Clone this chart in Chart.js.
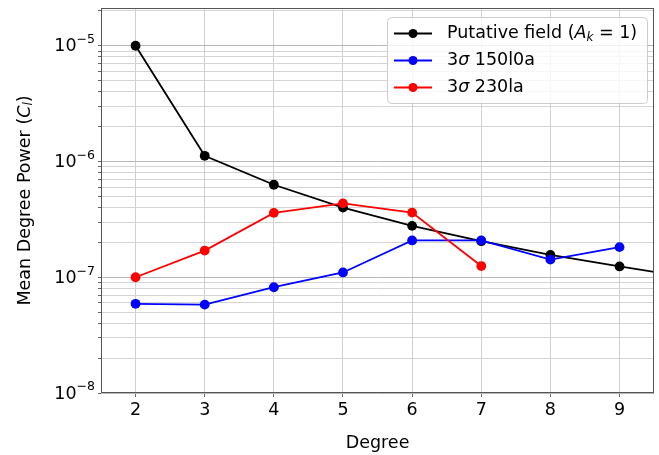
<!DOCTYPE html>
<html>
<head>
<meta charset="utf-8">
<script src="https://cdn.jsdelivr.net/npm/chart.js@4.4.1/dist/chart.umd.min.js"></script>
<style>
  html, body { margin: 0; padding: 0; background: #fff; }
  #wrap { width: 659px; height: 455px; }
</style>
</head>
<body>
<div id="wrap"><canvas id="powerChart"></canvas></div>
<script>
// Values
const degrees = [2, 3, 4, 5, 6, 7, 8, 9, 10];
const putativeField = [1.0e-5, 1.12e-6, 6.3e-7, 4.0e-7, 2.78e-7, 2.05e-7, 1.56e-7, 1.24e-7, 1.0e-7];
const sigma150l0a = [5.9e-8, 5.8e-8, 8.2e-8, 1.1e-7, 2.08e-7, 2.08e-7, 1.42e-7, 1.82e-7];
const sigma230la = [1.0e-7, 1.7e-7, 3.6e-7, 4.35e-7, 3.62e-7, 1.25e-7];

const xTicks = [2, 3, 4, 5, 6, 7, 8, 9];
const yDecades = [-8, -7, -6, -5];
const yTickBase = '10';
const yTickExps = ['−8', '−7', '−6', '−5'];

const FONT = "'DejaVu Sans', sans-serif";

function toPoints(values) {
    return values.map((v, i) => ({ x: degrees[i], y: v }));
}

// draw a list of text runs (mixed upright / italic / subscript) from x
function drawRuns(ctx, runs, x, y, align) {
    let total = 0;
    runs.forEach(r => { ctx.font = r.font; total += ctx.measureText(r.text).width; });
    let cx = x;
    if (align === 'center') cx = x - total / 2;
    if (align === 'right') cx = x - total;
    ctx.textBaseline = 'middle';
    ctx.textAlign = 'left';
    runs.forEach(r => {
        ctx.font = r.font;
        ctx.fillText(r.text, cx, y + (r.dy || 0));
        cx += ctx.measureText(r.text).width;
    });
}

const up = '17.5px ' + FONT;
const it = 'italic 17.5px ' + FONT;
const sub = 'italic 12px ' + FONT;
const sup = '12.5px ' + FONT;

const legendItems = [
    { color: '#000000', runs: [{ text: 'Putative field (', font: up }, { text: 'A', font: it }, { text: 'k', font: sub, dy: 4 }, { text: ' = 1)', font: up }] },
    { color: '#0000ff', runs: [{ text: '3', font: up }, { text: 'σ', font: it }, { text: ' 150l0a', font: up }] },
    { color: '#ff0000', runs: [{ text: '3', font: up }, { text: 'σ', font: it }, { text: ' 230la', font: up }] }
];

const decorations = {
    id: 'decorations',
    afterDraw(chart) {
        const ctx = chart.ctx;
        const a = chart.chartArea;
        const yScale = chart.scales.y;
        ctx.save();
        // frame
        ctx.strokeStyle = '#555555';
        ctx.lineWidth = 1;
        ctx.strokeRect(Math.round(a.left) + 0.5, Math.round(a.top) + 0.5,
            Math.round(a.right - a.left) - 1, Math.round(a.bottom - a.top) - 1);

        // y tick labels with superscript exponents
        ctx.fillStyle = '#000000';
        yDecades.forEach((e, i) => {
            const py = yScale.getPixelForValue(Math.pow(10, e));
            ctx.font = sup;
            const ew = ctx.measureText(yTickExps[i]).width;
            drawRuns(ctx, [{ text: yTickBase, font: up }], a.left - 6 - ew, py + 1, 'right');
            drawRuns(ctx, [{ text: yTickExps[i], font: sup }], a.left - 6 - ew, py - 6, 'left');
        });

        // axis titles
        drawRuns(ctx, [{ text: 'Degree', font: up }], (a.left + a.right) / 2, 443, 'center');
        ctx.save();
        ctx.translate(25, (a.top + a.bottom) / 2);
        ctx.rotate(-Math.PI / 2);
        drawRuns(ctx, [{ text: 'Mean Degree Power (', font: up }, { text: 'C', font: it },
            { text: 'l', font: sub, dy: 4 }, { text: ')', font: up }], 0, 0, 'center');
        ctx.restore();

        // legend
        const bx = 387, by = 17, bw = 260, bh = 86;
        ctx.beginPath();
        ctx.roundRect(bx + 0.5, by + 0.5, bw, bh, 4);
        ctx.fillStyle = 'rgba(255,255,255,0.8)';
        ctx.fill();
        ctx.strokeStyle = '#cccccc';
        ctx.lineWidth = 1;
        ctx.stroke();
        legendItems.forEach((item, i) => {
            const y = 33.5 + i * 27;
            ctx.strokeStyle = item.color;
            ctx.lineWidth = 1.8;
            ctx.beginPath();
            ctx.moveTo(394, y);
            ctx.lineTo(432, y);
            ctx.stroke();
            ctx.fillStyle = item.color;
            ctx.beginPath();
            ctx.arc(413, y, 4.5, 0, Math.PI * 2);
            ctx.fill();
            ctx.fillStyle = '#000000';
            drawRuns(ctx, item.runs, 447, y, 'left');
        });
        ctx.restore();
    }
};

function lineSet(label, values, color, order) {
    return {
        label: label,
        data: toPoints(values),
        borderColor: color,
        backgroundColor: color,
        pointBackgroundColor: color,
        pointBorderWidth: 0,
        pointRadius: 4.9,
        borderWidth: 1.8,
        tension: 0,
        order: order
    };
}

new Chart(document.getElementById('powerChart'), {
    type: 'line',
    data: {
        datasets: [
            lineSet('Putative field (A_k = 1)', putativeField, '#000000', 3),
            lineSet('3σ 150l0a', sigma150l0a, '#0000ff', 2),
            lineSet('3σ 230la', sigma230la, '#ff0000', 1)
        ]
    },
    options: {
        responsive: true,
        maintainAspectRatio: false,
        animation: false,
        layout: { padding: { left: 0, top: 8, right: 3, bottom: 0 } },
        plugins: {
            legend: { display: false },
            tooltip: { enabled: false }
        },
        scales: {
            x: {
                type: 'linear',
                min: 1.5,
                max: 9.5,
                afterBuildTicks: scale => { scale.ticks = xTicks.map(v => ({ value: v })); },
                afterFit: scale => {
                    scale.height = 62;
                    scale.paddingLeft = 0;
                    scale.paddingRight = 0;
                },
                grid: { color: '#d0d0d0', lineWidth: 1, drawTicks: true, tickLength: 4, tickColor: '#666666' },
                border: { display: false },
                ticks: {
                    color: '#000000',
                    font: { family: FONT, size: 17.5 },
                    padding: 3,
                    autoSkip: false,
                    maxRotation: 0
                }
            },
            y: {
                type: 'logarithmic',
                min: 1e-8,
                max: 2.12e-5,
                afterBuildTicks: scale => {
                    const ticks = [];
                    yDecades.forEach(e => {
                        for (let m = 1; m <= 9; m++) {
                            const v = m * Math.pow(10, e);
                            if (v <= scale.max * 1.0001) ticks.push({ value: v, major: m === 1 });
                        }
                    });
                    scale.ticks = ticks;
                },
                afterFit: scale => {
                    scale.width = 101;
                    scale.paddingTop = 0;
                    scale.paddingBottom = 0;
                },
                grid: {
                    color: c => (c.tick && c.tick.major) ? '#b8b8b8' : '#d4d4d4',
                    lineWidth: 1,
                    drawTicks: true,
                    tickLength: 3,
                    tickColor: '#666666'
                },
                border: { display: false },
                ticks: {
                    display: true,
                    color: 'rgba(0,0,0,0)',
                    font: { family: FONT, size: 17.5 },
                    padding: 6,
                    autoSkip: false,
                    callback: () => ''
                }
            }
        }
    },
    plugins: [decorations]
});
</script>
</body>
</html>
